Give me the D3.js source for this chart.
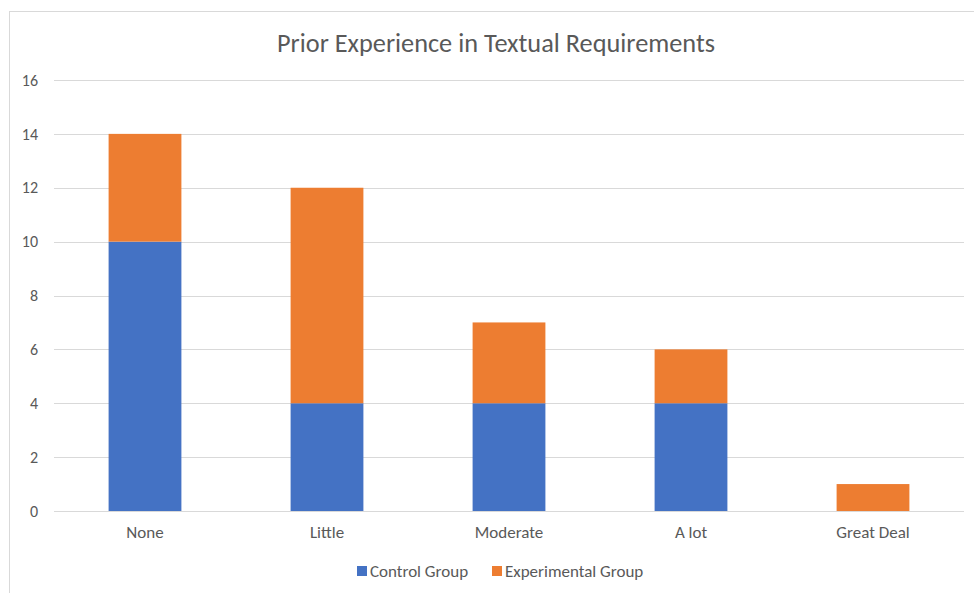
<!DOCTYPE html>
<html><head><meta charset="utf-8">
<script src="https://cdn.jsdelivr.net/npm/d3@7"></script>
<style>body{margin:0;background:#fff;} svg{display:block;}</style>
</head><body>
<script>
const categories = ["None", "Little", "Moderate", "A lot", "Great Deal"];
const controlGroup = [10, 4, 4, 4, 0];
const experimentalGroup = [4, 8, 3, 2, 1];
const seriesNames = ["Control Group", "Experimental Group"];
const yTicks = [0, 2, 4, 6, 8, 10, 12, 14, 16];
const colors = ["#4472C4", "#ED7D31"];

const W = 974, H = 593;
const svg = d3.select("body").append("svg").attr("width", W).attr("height", H);
const font = "Carlito, Calibri, 'Open Sans', 'Liberation Sans', sans-serif";

// chart border
svg.append("rect").attr("x", 9.5).attr("y", 11.5).attr("width", 980).attr("height", 600)
  .attr("fill", "#fff").attr("stroke", "#d9d9d9").attr("stroke-width", 1);

const x0 = 54, x1 = 964, yTop = 80, yBot = 511;
const x = d3.scaleBand().domain(categories).range([x0, x1]).paddingInner(0.6).paddingOuter(0.3);
const y = d3.scaleLinear().domain([0, 16]).range([yBot, yTop]);

// gridlines
svg.append("g").selectAll("line").data(yTicks).join("line")
  .attr("x1", x0).attr("x2", x1)
  .attr("y1", d => Math.round(y(d)) + 0.5).attr("y2", d => Math.round(y(d)) + 0.5)
  .attr("stroke", "#d9d9d9").attr("stroke-width", 1);

// y labels
const yAxis = d3.axisLeft(y).tickValues(yTicks).tickSize(0).tickPadding(0);
const gy = svg.append("g").attr("transform", `translate(38,0)`).call(yAxis);
gy.select(".domain").remove();
gy.selectAll("text").attr("font-family", font).attr("font-size", 16).attr("fill", "#595959");

// stacked data
const rows = categories.map((c, i) => ({cat: c, "Control Group": controlGroup[i], "Experimental Group": experimentalGroup[i]}));
const stack = d3.stack().keys(seriesNames)(rows);
svg.append("g").selectAll("g").data(stack).join("g").attr("fill", (d, i) => colors[i])
  .selectAll("rect").data(d => d).join("rect")
  .attr("x", d => x(d.data.cat)).attr("width", x.bandwidth())
  .attr("y", d => y(d[1])).attr("height", d => y(d[0]) - y(d[1]));

// x labels
const xAxis = d3.axisBottom(x).tickSize(0).tickPadding(15);
const gx = svg.append("g").attr("transform", `translate(0,${yBot})`).call(xAxis);
gx.select(".domain").remove();
gx.selectAll("text").attr("font-family", font).attr("font-size", 17).attr("fill", "#595959");

// title
svg.append("text").attr("x", 496).attr("y", 52).attr("text-anchor", "middle")
  .attr("font-family", font).attr("font-size", 26.3).attr("fill", "#595959")
  .text("Prior Experience in Textual Requirements");

// legend
const legend = svg.append("g");
const lx = [357, 492];
seriesNames.forEach((s, i) => {
  legend.append("rect").attr("x", lx[i]).attr("y", 566).attr("width", 10).attr("height", 10).attr("fill", colors[i]);
  legend.append("text").attr("x", lx[i] + 13).attr("y", 577).attr("font-family", font)
    .attr("font-size", 17).attr("fill", "#595959").text(s);
});
</script>
</body></html>
